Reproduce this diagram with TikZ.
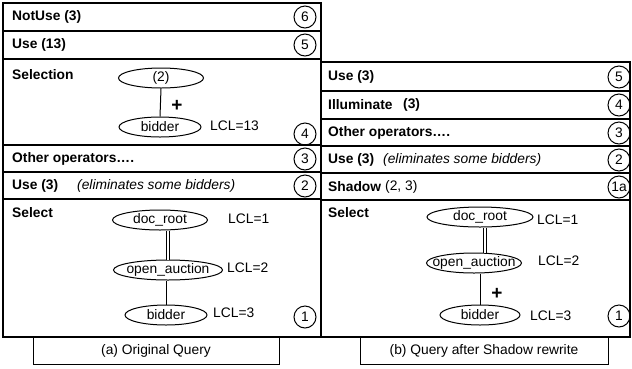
\documentclass[tikz,border=0pt]{standalone}
\usepackage{fontspec}
\setmainfont{Liberation Sans}
\usetikzlibrary{shapes.geometric}
\begin{document}
\begin{tikzpicture}[x=1pt,y=-1pt,
  every node/.style={font=\fontsize{13.8}{16}\selectfont},
  panel/.style={draw, line width=1.2pt},
  rowlbl/.style={anchor=west, font=\fontsize{13.8}{16}\selectfont\bfseries, inner sep=0pt},
  note/.style={anchor=west, inner sep=0pt},
  num/.style={draw, circle, line width=1pt, minimum size=22pt, inner sep=0pt},
  elnode/.style={draw, ellipse, line width=1pt, inner sep=0pt, minimum width=#1, minimum height=20pt},
  lcl/.style={anchor=west, inner sep=0pt},
  link/.style={line width=1pt},
  dbl/.style={double, double distance=2.5pt, line width=0.9pt},
  plus/.style={font=\fontsize{19}{19}\selectfont\bfseries, inner sep=0pt},
  capbox/.style={draw, line width=1pt, minimum height=27pt, inner sep=0pt}
]
\useasboundingbox (0,0) rectangle (632,368);

% ---------- left panel ----------
\draw[panel] (3,3) rectangle (321,337);
\foreach \yy in {31,59,145,172,199} \draw[panel] (3,\yy) -- (321,\yy);

\node[rowlbl] (l6) at (12,17) {NotUse (3)};
\node[rowlbl] (l5) at (12,45) {Use (13)};
\node[rowlbl] (l4) at (12,75) {Selection};
\node[rowlbl] (l3) at (12,158.5) {Other operators….};
\node[rowlbl] (l2) at (12,185.5) {Use (3)};
\node[note] (l2n) at (77,185.5) {\itshape (eliminates some bidders)};
\node[rowlbl] (l1) at (12,213) {Select};

\node[num] (c6) at (305,17) {6};
\node[num] (c5) at (305,45) {5};
\node[num] (c4) at (305,134) {4};
\node[num] (c3) at (305,159) {3};
\node[num] (c2) at (305,186) {2};
\node[num] (c1) at (305,317) {1};

\node[elnode=85pt] (s2) at (161,78) {\makebox[0pt]{(2)}};
\node[elnode=82pt] (sb) at (160,127) {\makebox[0pt]{bidder}};
\draw[link] (s2.south) -- (sb.north);
\node[plus] (sp) at (177,106) {+};
\node[lcl] (slcl) at (210,126) {LCL=13};

\node[elnode=95pt] (d1) at (160,220) {\makebox[0pt]{doc\_root}};
\node[elnode=109pt] (o1) at (168,270) {\makebox[0pt]{open\_auction}};
\node[elnode=82pt] (b1) at (166,315) {\makebox[0pt]{bidder}};
\draw[dbl] (o1.north |- d1.south) -- (o1.north);
\draw[link] (o1.south -| b1.north) -- (b1.north);
\node[lcl] (d1l) at (228,219) {LCL=1};
\node[lcl] (o1l) at (227,268) {LCL=2};
\node[lcl] (b1l) at (213,313) {LCL=3};

\node[capbox, minimum width=246pt] (capa) at (156,350.5) {(a) Original Query};

% ---------- right panel ----------
\draw[panel] (321,62) rectangle (630,337);
\foreach \yy in {91,119,146,173,200} \draw[panel] (321,\yy) -- (630,\yy);

\node[rowlbl] (r5) at (328,76.5) {Use (3)};
\node[rowlbl] (r4) at (328,105) {Illuminate};
\node[rowlbl] (r4n) at (403,105) {(3)};
\node[rowlbl] (r3) at (328,132.5) {Other operators….};
\node[rowlbl] (r2) at (328,159.5) {Use (3)};
\node[note] (r2n) at (383,159.5) {\itshape (eliminates some bidders)};
\node[rowlbl] (r1a) at (328,186.5) {Shadow};
\node[note] (r1an) at (385,186.5) {(2, 3)};
\node[rowlbl] (r1) at (328,213) {Select};

\node[num] (e5) at (619,77) {5};
\node[num] (e4) at (619,105) {4};
\node[num] (e3) at (619,133) {3};
\node[num] (e2) at (619,160) {2};
\node[num] (e1a) at (619,187) {1a};
\node[num] (e1) at (619,316) {1};

\node[elnode=106pt] (d2) at (480,217) {\makebox[0pt]{doc\_root}};
\node[elnode=95pt] (o2) at (474,263) {\makebox[0pt]{open\_auction}};
\node[elnode=80pt] (b2) at (480,315) {\makebox[0pt]{bidder}};
\draw[dbl] (d2.south) ++(5,0) coordinate (dd) -- (dd |- o2.north);
\draw[link] (b2.north |- o2.south) -- (b2.north);
\node[plus] (rp) at (497,294) {+};
\node[lcl] (d2l) at (537,220) {LCL=1};
\node[lcl] (o2l) at (538,261) {LCL=2};
\node[lcl] (b2l) at (530,316) {LCL=3};

\node[capbox, minimum width=248pt] (capb) at (484,350.5) {(b) Query after Shadow rewrite};
\end{tikzpicture}
\end{document}
